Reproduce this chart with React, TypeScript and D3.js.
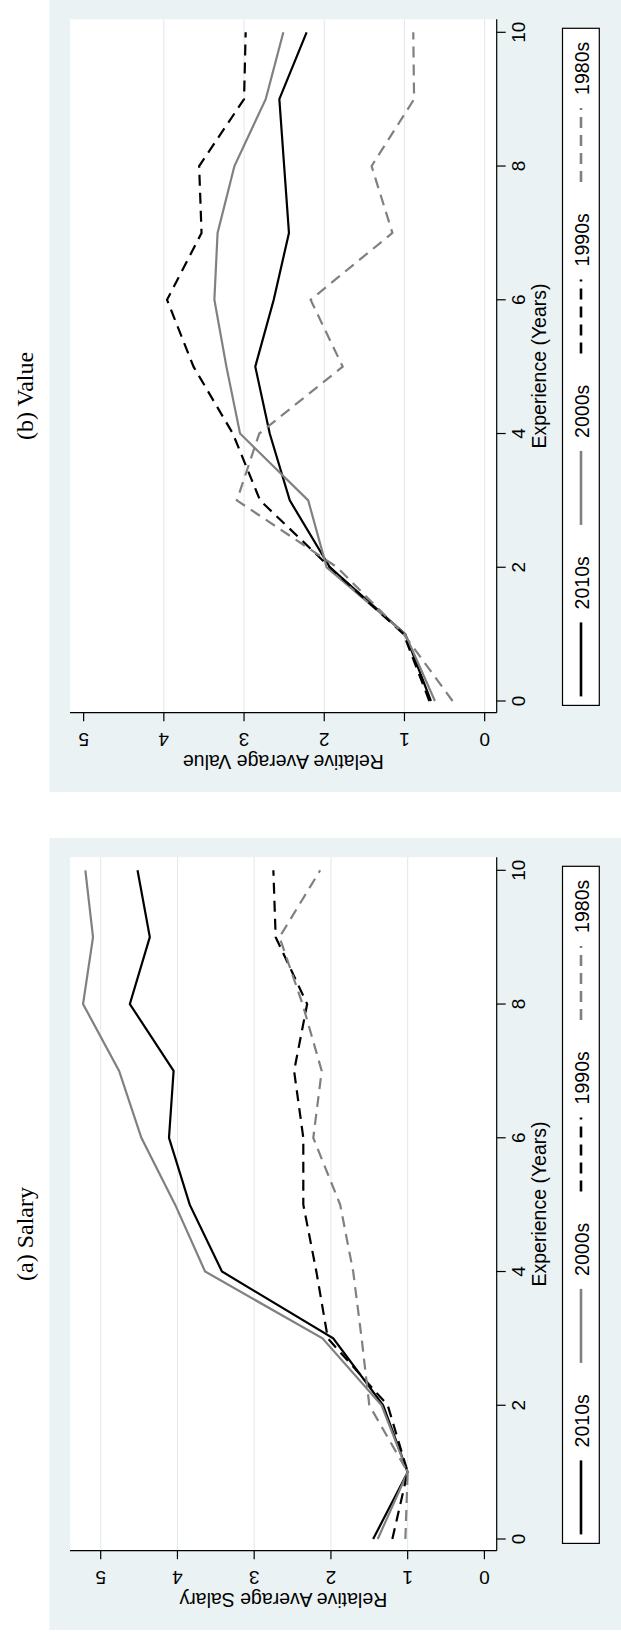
import React from 'react'
import * as d3 from 'd3'

// experience in years (x axis of both panels)
const experience = [0, 1, 2, 3, 4, 5, 6, 7, 8, 9, 10]
const decades = ['2010s', '2000s', '1990s', '1980s']

// (a) Salary
const salary2010s = [1.45, 1.0, 1.32, 1.97, 3.42, 3.84, 4.11, 4.05, 4.62, 4.36, 4.52]
const salary2000s = [1.39, 1.0, 1.34, 2.11, 3.64, 4.03, 4.47, 4.76, 5.23, 5.1, 5.2]
const salary1990s = [1.2, 1.0, 1.26, 2.04, 2.19, 2.36, 2.36, 2.48, 2.31, 2.72, 2.75]
const salary1980s = [1.03, 1.0, 1.5, 1.6, 1.71, 1.88, 2.23, 2.12, 2.37, 2.67, 2.14]

// (b) Value
const value2010s = [0.67, 0.99, 1.93, 2.43, 2.68, 2.86, 2.63, 2.44, 2.5, 2.56, 2.22]
const value2000s = [0.62, 0.99, 1.97, 2.2, 3.05, 3.22, 3.37, 3.33, 3.12, 2.73, 2.51]
const value1990s = [0.69, 1.01, 1.93, 2.8, 3.14, 3.63, 3.96, 3.53, 3.56, 3.0, 2.98]
const value1980s = [0.4, 1.01, 1.84, 3.09, 2.81, 1.77, 2.17, 1.15, 1.41, 0.88, 0.89]

const valueTicks = [0, 1, 2, 3, 4, 5]
const experienceTicks = [0, 2, 4, 6, 8, 10]

const lineStyle: Record<string, { stroke: string; dash?: string }> = {
    '2010s': { stroke: '#000000' },
    '2000s': { stroke: '#808080' },
    '1990s': { stroke: '#000000', dash: '11 7' },
    '1980s': { stroke: '#808080', dash: '11 7' },
}

const sans = '"Liberation Sans", Arial, Helvetica, sans-serif'
const serif = '"Liberation Serif", "Times New Roman", serif'

// the figure is a landscape graph turned on its side, so the value axis runs
// horizontally (growing to the left) and experience runs up the page
const plotLeft = 70
const plotRight = 496.7

const Panel = ({ oy, title, ytitle, series, domain, grid }) => {
    const plotTop = oy + 19.3
    const plotBottom = oy + 712.7

    const eScale = d3.scaleLinear().domain([0, 10]).range([oy + 701, oy + 32.3])
    const vScale = d3.scaleLinear().domain(domain).range([plotRight, plotLeft])

    const line = d3.line<number>()
        .x(d => vScale(d))
        .y((d, i) => eScale(experience[i]))

    const legendTop = oy + 28.3
    const legendBottom = oy + 705.4
    const keyLen = 74
    const step = 171.5

    return (
        <g>
            <rect x={49.5} y={oy} width={621 - 49.5} height={792} fill="#eaf2f3" />
            <rect x={plotLeft} y={plotTop} width={plotRight - plotLeft} height={plotBottom - plotTop} fill="#ffffff" />

            {grid.map(t => (
                <line key={'g' + t} x1={vScale(t)} x2={vScale(t)} y1={plotTop} y2={plotBottom}
                    stroke="#dfe8ed" strokeWidth={1} />
            ))}

            {decades.map((d, i) => (
                <path key={d} d={line(series[i])} fill="none" stroke={lineStyle[d].stroke}
                    strokeWidth={2.2} strokeDasharray={lineStyle[d].dash} strokeLinejoin="miter" />
            ))}

            {/* experience axis */}
            <line x1={plotRight} x2={plotRight} y1={plotTop} y2={plotBottom} stroke="#000" strokeWidth={1.2} />
            {experienceTicks.map(t => (
                <g key={'e' + t}>
                    <line x1={plotRight} x2={plotRight + 9} y1={eScale(t)} y2={eScale(t)} stroke="#000" strokeWidth={1.2} />
                    <text transform={`translate(525,${eScale(t)}) rotate(-90)`} textAnchor="middle"
                        fontFamily={sans} fontSize={19}>{t}</text>
                </g>
            ))}
            <text transform={`translate(545.7,${(plotTop + plotBottom) / 2}) rotate(-90)`} textAnchor="middle"
                fontFamily={sans} fontSize={19.5}>Experience (Years)</text>

            {/* value axis */}
            <line x1={plotLeft} x2={plotRight} y1={plotBottom} y2={plotBottom} stroke="#000" strokeWidth={1.2} />
            {valueTicks.map(t => (
                <g key={'v' + t}>
                    <line x1={vScale(t)} x2={vScale(t)} y1={plotBottom} y2={plotBottom + 8.5} stroke="#000" strokeWidth={1.2} />
                    <text transform={`translate(${vScale(t)},${plotBottom + 20.5}) rotate(180)`} textAnchor="middle"
                        fontFamily={sans} fontSize={19}>{t}</text>
                </g>
            ))}
            <text transform={`translate(${(plotLeft + plotRight) / 2},${plotBottom + 42}) rotate(180)`} textAnchor="middle"
                fontFamily={sans} fontSize={19.5}>{ytitle}</text>

            {/* legend */}
            <rect x={562.5} y={legendTop} width={36.8} height={legendBottom - legendTop} fill="#fff" stroke="#000" strokeWidth={1.2} />
            {decades.map((d, i) => {
                const kb = oy + 696.4 - i * step
                return (
                    <g key={'l' + d}>
                        <line x1={581} x2={581} y1={kb} y2={kb - keyLen} stroke={lineStyle[d].stroke}
                            strokeWidth={2.6} strokeDasharray={lineStyle[d].dash} />
                        <text transform={`translate(588.5,${kb - keyLen - 13}) rotate(-90)`} textAnchor="start"
                            fontFamily={sans} fontSize={19.5}>{d}</text>
                    </g>
                )
            })}

            <text transform={`translate(33,${oy + 396}) rotate(-90)`} textAnchor="middle"
                fontFamily={serif} fontSize={24}>{title}</text>
        </g>
    )
}

const App = () => {
    return (
        <svg width={621} height={1634} style={{ position: 'absolute', left: 0, top: 0, background: '#fff' }}>
            <Panel oy={0} title="(b) Value" ytitle="Relative Average Value"
                series={[value2010s, value2000s, value1990s, value1980s]}
                domain={[-0.15, 5.17]} grid={[0, 1, 2, 3, 4]} />
            <Panel oy={838} title="(a) Salary" ytitle="Relative Average Salary"
                series={[salary2010s, salary2000s, salary1990s, salary1980s]}
                domain={[-0.16, 5.4]} grid={[1, 2, 3, 4, 5]} />
        </svg>
    )
}

export default App
